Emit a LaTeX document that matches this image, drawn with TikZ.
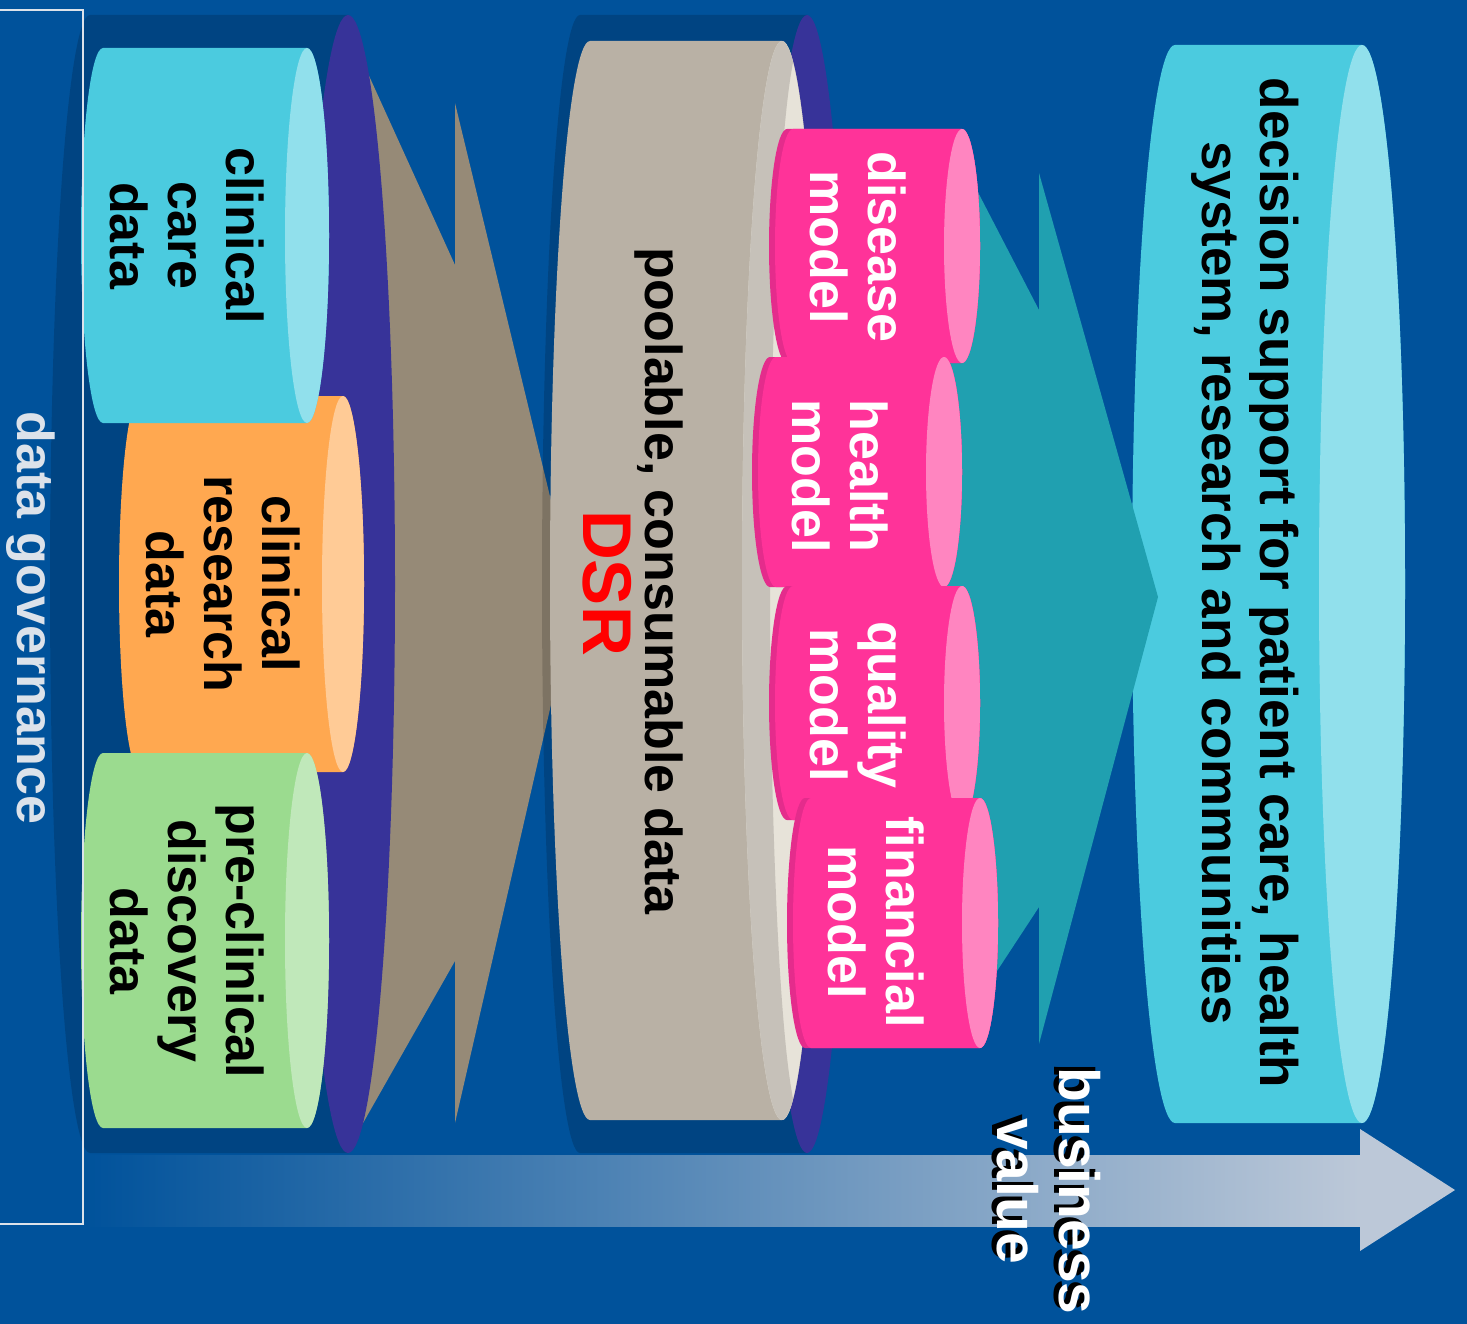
\documentclass[tikz,border=0pt]{standalone}
\usepackage{fontspec}
\setmainfont{Liberation Sans}
\usetikzlibrary{calc}
\definecolor{bgblue}{RGB}{0,82,155}
\definecolor{purp}{RGB}{55,51,153}
\definecolor{funnel}{RGB}{150,138,119}
\definecolor{stone}{RGB}{185,177,165}
\definecolor{stonegray}{RGB}{198,193,185}
\definecolor{stonelight}{RGB}{231,227,217}
\definecolor{cyanbody}{RGB}{75,203,223}
\definecolor{cyanface}{RGB}{145,224,236}
\definecolor{orbody}{RGB}{255,168,80}
\definecolor{orface}{RGB}{255,203,150}
\definecolor{grbody}{RGB}{155,219,143}
\definecolor{grface}{RGB}{192,232,186}
\definecolor{pkbody}{RGB}{255,51,153}
\definecolor{pkedge}{RGB}{228,44,140}
\definecolor{pkface}{RGB}{255,133,192}
\definecolor{tealarr}{RGB}{32,160,176}
\definecolor{bandend}{RGB}{188,200,216}
\definecolor{govline}{RGB}{220,226,234}
\tikzset{dat/.style={font=\fontsize{52}{58}\selectfont\bfseries,align=center,rotate=-90,inner sep=0pt}}
\tikzset{mdl/.style={dat,text=white}}
\tikzset{bv/.style={font=\fontsize{57}{62}\selectfont\bfseries,align=center,rotate=-90,inner sep=0pt}}
\tikzset{backcan/.style={fill=black,fill opacity=0.16}}
% horizontal can: left centre, face centre, mid y, half height, ellipse rx, body, face
\newcommand{\hcan}[7]{%
  \fill[#6] (#2,#3-#4) -- (#1,#3-#4)
    arc[start angle=90,end angle=270,x radius=#5pt,y radius=#4pt]
    -- (#2,#3+#4)
    arc[start angle=-90,end angle=90,x radius=#5pt,y radius=#4pt] -- cycle;
  \fill[#7] (#2,#3) ellipse[x radius=#5pt,y radius=#4pt];}
\newcommand{\pcan}[4]{%
  \hcan{#1}{#2}{#3}{#4}{18}{pkedge}{pkface}
  \hcan{#1+6}{#2}{#3}{#4}{18}{pkbody}{pkface}}

\begin{document}
\begin{tikzpicture}[x=1pt,y=-1pt]
  \useasboundingbox (0,0) rectangle (1467,1324);
  \fill[bgblue] (0,0) rectangle (1467,1324);
  % business value arrow
  \shade[left color=bgblue,right color=bandend] (84,1155) rectangle (1360,1226);
  \fill[bandend] (1360,1129) -- (1455,1190) -- (1360,1251) -- cycle;
  % sources
  \fill[backcan] (348,15) -- (90,15)
    arc[start angle=90,end angle=270,x radius=40pt,y radius=569pt] -- (348,1153) -- cycle;
  \fill[funnel] (350,34) -- (455,265) -- (455,103) -- (575,600) -- (455,1123) -- (455,961) -- (350,1146) -- cycle;
  \fill[purp] (348,584) ellipse[x radius=47pt,y radius=569pt];
  \hcan{140}{343}{584}{188}{21}{orbody}{orface}
  \hcan{103}{307}{235.5}{187.5}{22}{cyanbody}{cyanface}
  \hcan{103}{307}{940.5}{187.5}{22}{grbody}{grface}
  % DSR
  \fill[backcan] (807,15) -- (580,15)
    arc[start angle=90,end angle=270,x radius=38pt,y radius=569pt] -- (807,1153) -- cycle;
  \fill[purp] (807,584) ellipse[x radius=43pt,y radius=569pt];
  \hcan{590}{782}{580.5}{539.5}{40}{stone}{stonelight}
  \begin{scope}
    \clip (782,580.5) ellipse[x radius=40pt,y radius=539.5pt];
    \fill[stonegray,even odd rule] (782,580.5) ellipse[x radius=40pt,y radius=539.5pt]
      (802,580.5) ellipse[x radius=32pt,y radius=539.5pt];
  \end{scope}
  % decision support
  \hcan{1175}{1362}{584}{539}{43}{cyanbody}{cyanface}
  \fill[tealarr] (955,148) -- (1039,310) -- (1039,173) -- (1158,597) -- (1039,1044) -- (1039,907)
    -- (955,1035) -- (940,1000) -- (940,200) -- cycle;
  % models
  \pcan{787}{962}{246}{117}
  \pcan{770}{944}{472}{115}
  \pcan{787}{962}{703}{117}
  \pcan{805}{980}{923}{125}
  \draw[govline,line width=2pt] (-5,10) rectangle (83,1224);
  % texts
  \node[dat,text=govline] (gov) at (31,618) {data governance};
  \node[dat] (care) at (187.5,235.5) {clinical\\care\\data};
  \node[dat] (research) at (223.5,584) {clinical\\research\\data};
  \node[dat] (preclin) at (187.5,941) {pre-clinical\\discovery\\data};
  \node[dat] (pool) at (659,581) {poolable, consumable data};
  \node[dat,font=\fontsize{69}{69}\selectfont\bfseries,text=red] (dsr) at (607.5,583) {DSR};
  \node[mdl] (disease) at (858.5,247) {disease\\model};
  \node[mdl] (health) at (840.5,476) {health\\model};
  \node[mdl] (quality) at (858.5,705) {quality\\model};
  \node[mdl] (financial) at (876.5,922) {financial\\model};
  \node[dat,font=\fontsize{53}{58}\selectfont\bfseries] (decision) at (1245,583)
    {decision support for patient care, health\\system, research and communities};
  \node[bv,text=black] (bvshade) at (1044,1187.5) {business\\value};
  \node[bv,text=white] (bizval) at (1049,1191) {business\\value};
\end{tikzpicture}
\end{document}
